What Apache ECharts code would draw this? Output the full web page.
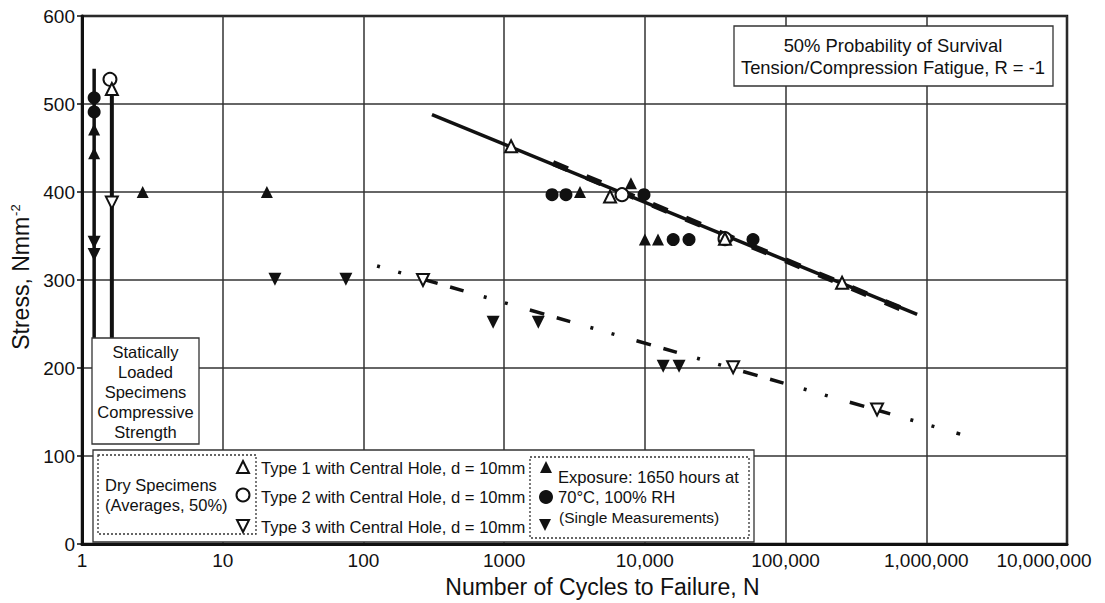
<!DOCTYPE html>
<html><head><meta charset="utf-8">
<script src="https://cdn.jsdelivr.net/npm/echarts@6/dist/echarts.min.js"></script>
<style>html,body{margin:0;padding:0;background:#fff}#chart{width:1105px;height:603px}</style>
</head><body><div id="chart"></div>
<script>
// ---- tick labels ----
const xTickLabels = ['1', '10', '100', '1000', '10,000', '100,000', '1,000,000', '10,000,000'];
const yMin = 0, yMax = 600, yStep = 100;

// ---- data: [cycles N, stress] ----
const type1Dry = [[1.63, 517], [1120, 452], [5660, 395], [37100, 347], [252000, 297]];
const type2Dry = [[1.58, 528], [6880, 397], [37100, 347]];
const type3Dry = [[1.63, 388], [265, 300], [42400, 201], [447000, 153]];
const exposedUp = [[1.22, 471], [1.22, 444], [2.7, 400], [20.6, 400], [3460, 400], [7960, 410], [10000, 346], [12400, 346]];
const exposedCircle = [[1.22, 507], [1.22, 491], [2190, 397], [2750, 397], [9860, 397], [15900, 346], [20600, 346], [58700, 346]];
const exposedDown = [[1.22, 343], [1.22, 329], [23.5, 301], [75, 301], [835, 252], [1750, 252], [13500, 202], [17500, 202]];
const staticExposed = [[1.22, 540], [1.22, 232]];
const staticDry = [[1.63, 517], [1.63, 232]];
const fitType12 = [[307, 488], [861000, 261]];
const fitType12b = [[2000, 436], [800000, 262]];
const fitType3 = [[125, 316], [1740000, 125]];

const FONT = '"Liberation Sans", Arial, Helvetica, sans-serif';
const INK = '#111';
const chart = echarts.init(document.getElementById('chart'), null, {renderer: 'svg'});

function scatter(name, data, symbol, rotate, size, filled) {
  return {
    name, type: 'scatter', data, symbol, symbolRotate: rotate, symbolSize: size, z: 5,
    itemStyle: filled ? {color: INK, borderWidth: 0, opacity: 1} : {color: '#fff', borderColor: INK, borderWidth: 2, opacity: 1},
    emphasis: {disabled: true},
    silent: true
  };
}
function line(name, data, width, dash, offset) {
  return {
    name, type: 'line', data, symbol: 'none', silent: true, z: 3,
    lineStyle: {color: INK, width, type: dash || 'solid', dashOffset: offset || 0, cap: 'butt', opacity: 1}
  };
}
function txt(text, x, y, size, align) {
  return {type: 'text', z: 20, style: {text, x, y, fontSize: size, fontFamily: FONT, fill: INK,
    align: align || 'left', textAlign: align || 'left', verticalAlign: 'middle', textVerticalAlign: 'middle'}};
}
function rect(x, y, w, h, dotted) {
  return {type: 'rect', z: 15, shape: {x, y, width: w, height: h},
    style: {fill: dotted ? 'transparent' : '#fff', stroke: '#333', lineWidth: 1.3, lineDash: dotted ? [2, 2] : null}};
}
function tri(cx, cy, s, down, filled) {
  const h = s / 2;
  const pts = down ? [[cx - h, cy - h], [cx + h, cy - h], [cx, cy + h]] : [[cx, cy - h], [cx + h, cy + h], [cx - h, cy + h]];
  return {type: 'polygon', z: 20, shape: {points: pts},
    style: filled ? {fill: INK} : {fill: '#fff', stroke: INK, lineWidth: 2}};
}
function circ(cx, cy, r, filled) {
  return {type: 'circle', z: 20, shape: {cx, cy, r},
    style: filled ? {fill: INK} : {fill: '#fff', stroke: INK, lineWidth: 2}};
}

const option = {
  animation: false,
  backgroundColor: '#fff',
  textStyle: {fontFamily: FONT, color: INK},
  grid: {left: 82, right: 38, top: 16, bottom: 53, show: true, borderColor: INK, borderWidth: 2.5, backgroundColor: 'transparent'},
  xAxis: {
    type: 'log', logBase: 10, min: 1, max: 1e7,
    axisLine: {show: true, lineStyle: {color: INK, width: 3}},
    axisTick: {show: false}, minorTick: {show: false}, minorSplitLine: {show: false},
    splitLine: {show: true, lineStyle: {color: '#333', width: 1.5}},
    axisLabel: {
      fontSize: 19, color: INK, margin: 7, fontFamily: FONT,
      formatter: function (v) {
        const i = Math.round(Math.log10(v));
        const t = xTickLabels[i];
        return i === xTickLabels.length - 1 ? '{last|' + t + '}' : t;
      },
      rich: {last: {fontSize: 19, fontFamily: FONT, color: INK, padding: [0, 46, 0, 0]}}
    },
    name: 'Number of Cycles to Failure, N', nameLocation: 'middle', nameGap: 27,
    nameTextStyle: {fontSize: 23, color: INK, fontFamily: FONT, padding: [0, 0, 0, 56]}
  },
  yAxis: {
    type: 'value', min: yMin, max: yMax, interval: yStep,
    axisLine: {show: true, lineStyle: {color: INK, width: 3}},
    axisTick: {show: true, length: 5, lineStyle: {color: INK, width: 1.5}},
    splitLine: {show: true, lineStyle: {color: '#333', width: 1.5}},
    axisLabel: {fontSize: 19, color: INK, margin: 7, fontFamily: FONT},
    name: '{a|Stress, Nmm}{s|-2}', nameLocation: 'middle', nameGap: 49,
    nameTextStyle: {
      padding: [0, 0, 0, 6],
      rich: {
        a: {fontSize: 23, fontFamily: FONT, color: INK},
        s: {fontSize: 13, fontFamily: FONT, color: INK, verticalAlign: 'top', padding: [0, 0, 8, 1]}
      }
    }
  },
  series: [
    line('Static exposed', staticExposed, 3.5),
    line('Static dry', staticDry, 4),
    line('Fit type 1/2', fitType12, 3.5),
    line('Fit type 1/2 dashed', fitType12b, 6, [16, 20], 29),
    line('Fit type 3', fitType3, 3.5, [3, 19, 3, 23, 15, 13, 14, 21], 0),
    scatter('Exposed ●', exposedCircle, 'circle', 0, 13, true),
    scatter('Exposed ▲', exposedUp, 'triangle', 0, 12, true),
    scatter('Exposed ▼', exposedDown, 'triangle', 180, 13, true),
    scatter('Type 2 dry', type2Dry, 'circle', 0, 13, false),
    scatter('Type 1 dry', type1Dry, 'triangle', 0, 12, false),
    scatter('Type 3 dry', type3Dry, 'triangle', 180, 12, false)
  ],
  graphic: [
    // title box
    rect(734, 26, 319, 60, false),
    txt('50% Probability of Survival', 893, 45, 18.4, 'center'),
    txt('Tension/Compression Fatigue, R = -1', 893, 67, 18.4, 'center'),
    // statically loaded box
    rect(92, 338, 107, 106, false),
    txt('Statically', 145.5, 352, 16.5, 'center'),
    txt('Loaded', 145.5, 372, 16.5, 'center'),
    txt('Specimens', 145.5, 392, 16.5, 'center'),
    txt('Compressive', 145.5, 412, 16.5, 'center'),
    txt('Strength', 145.5, 432, 16.5, 'center'),
    // legend box
    rect(93, 450, 661, 92, false),
    rect(98, 455, 158, 79, true),
    rect(530, 457, 219, 81, true),
    txt('Dry Specimens', 105, 485, 16.5),
    txt('(Averages, 50%)', 105, 505, 16.5),
    tri(243, 467, 12, false, false),
    circ(243, 495, 6.5, false),
    tri(243, 526, 12, true, false),
    txt('Type 1 with Central Hole, d = 10mm', 261, 468, 16.6),
    txt('Type 2 with Central Hole, d = 10mm', 261, 497, 16.6),
    txt('Type 3 with Central Hole, d = 10mm', 261, 527, 16.6),
    tri(546, 467, 12, false, true),
    circ(546, 497, 7, true),
    tri(545, 525, 12, true, true),
    txt('Exposure: 1650 hours at', 558, 477, 16.6),
    txt('70°C, 100% RH', 558, 497, 16.6),
    txt('(Single Measurements)', 559, 517, 15.5)
  ]
};
chart.setOption(option);
</script></body></html>
